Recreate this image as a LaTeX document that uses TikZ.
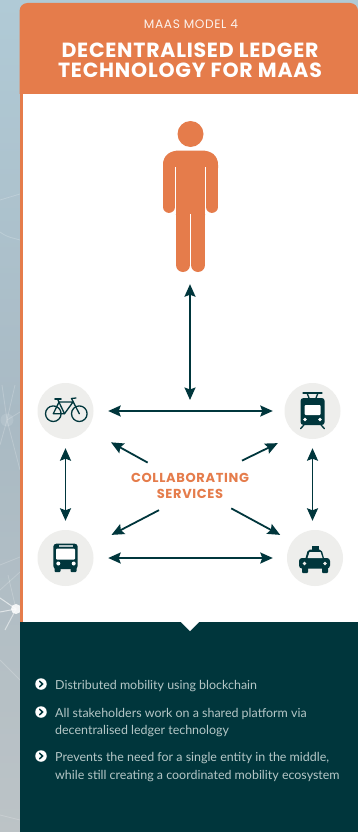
\documentclass[tikz,border=0pt]{standalone}
\usepackage{fontspec}
\setmainfont{Lato}
\newfontfamily\kickerfont[LetterSpace=5]{Poppins}
\newfontfamily\titlefont[LetterSpace=3.7]{Poppins}
\newfontfamily\collabfont[LetterSpace=5]{Poppins}
\usetikzlibrary{arrows.meta,calc}
\definecolor{mango}{HTML}{E57C4B}
\definecolor{deep}{HTML}{00363C}
\definecolor{halo}{HTML}{EEEEEC}
\definecolor{copytone}{HTML}{B4C6C6}
\definecolor{bgtop}{HTML}{B0CAD6}
\definecolor{bgmid}{HTML}{A9BAC4}
\definecolor{bgbot}{HTML}{BCC3C6}
\tikzset{
  tip/.tip={Stealth[length=12.5pt,width=11pt,inset=2pt]},
  biarrow/.style={draw=deep,line width=1.8pt,tip-tip},
  oneway/.style={draw=deep,line width=1.8pt,-tip},
  halonode/.style={circle,fill=halo,minimum size=56pt,inner sep=0pt},
  bulletdot/.style={circle,fill=white,minimum size=11.5pt,inner sep=0pt},
  copyline/.style={anchor=west,text=copytone,font=\fontsize{12.45}{14}\selectfont,inner sep=0pt},
  chev/.style={draw=deep,line width=1.5pt,line cap=round},
  webline/.style={draw=white,line width=.8pt,opacity=.2},
  icon/.style={fill=deep,draw=none},
  iconline/.style={draw=deep,line width=1.3pt,line cap=round,line join=round},
  limb/.style={draw=mango,line cap=round}
}
\begin{document}
\begin{tikzpicture}[x=1pt,y=-1pt]
\useasboundingbox (0,0) rectangle (358,832);
% backdrop
\fill[top color=bgtop,bottom color=bgmid] (0,0) rectangle (358,416);
\fill[top color=bgmid,bottom color=bgbot] (0,416) rectangle (358,832);
\draw[webline] (0,200) -- (20,194);
\draw[webline] (0,232) .. controls (8,238) and (14,238) .. (20,240);
\fill[white,opacity=.12] (7,420) circle (6.5);
\draw[webline] (2,385) -- (7,420) -- (20,470);
\draw[webline] (15,385) -- (7,420) -- (0,445);
\draw[webline] (7,420) -- (20,412);
\draw[webline] (0,565) -- (20,557);
\draw[webline] (0,590) -- (20,572);
\draw[webline] (8,575) -- (16,609);
\draw[white,line width=1pt,opacity=.6] (0,598) -- (16,609) -- (0,612);
\draw[white,line width=1pt,opacity=.5] (16,609) -- (5,630);
\fill[white,opacity=.85] (16,609) circle (5);
\draw[webline] (0,660) -- (20,680);
\draw[webline] (0,815) -- (20,820);
% panel
\fill[mango] (19.5,90) rectangle (23,624);
\fill[mango] (19.5,94) -- (19.5,11) arc[start angle=180,end angle=270,radius=8] -- (350,3) arc[start angle=-90,end angle=0,radius=8] -- (358,94) -- cycle;
\fill[white] (22.5,94) rectangle (358,622);
\fill[deep] (19.5,622) rectangle (358,832);
\fill[white] (181,622) -- (199,622) -- (190,631) -- cycle;
% header
\node[inner sep=0pt,text=white!90!mango,font=\kickerfont\fontsize{12.2}{13}\selectfont] (kicker) at (191,24) {MAAS MODEL 4};
\node[inner sep=0pt,text=white,align=center,font=\titlefont\fontsize{20.5}{20.5}\bfseries\selectfont] (title) at (190,60.5) {DECENTRALISED LEDGER\\TECHNOLOGY FOR MAAS};
% person
\fill[mango] (190.5,134) circle (13);
\fill[mango] (163,165) .. controls (163,155) and (170,150.5) .. (180,150.5) -- (201,150.5) .. controls (211,150.5) and (218,155) .. (218,165) -- (218,168) -- (206,168) -- (205,215) -- (176,215) -- (175,168) -- (163,168) -- cycle;
\draw[limb,line width=11.8pt] (169,164) -- (169,207);
\draw[limb,line width=11.8pt] (212,164) -- (212,207);
\draw[limb,line width=14pt] (183,212) -- (183,265);
\draw[limb,line width=14pt] (198,212) -- (198,265);
\draw[white,line width=.7pt] (175.5,167) -- (175.5,214);
\draw[white,line width=.7pt] (205.7,167) -- (205.7,214);
\draw[white,line width=.9pt] (190.5,214) -- (190.5,270);
\node[minimum width=56pt,minimum height=152pt,inner sep=0pt] (person) at (190.5,196) {};
% service circles
\node[halonode] (bike) at (65.5,411) {};
\node[halonode] (train) at (312.5,411) {};
\node[halonode] (bus) at (65.5,558) {};
\node[halonode] (taxi) at (315,558) {};
\coordinate (hub) at (190,411);
\coordinate (collablow) at (190,494);
% bike icon
\draw[iconline] (53.3,413.7) circle (7.8);
\draw[iconline] (79.3,413.7) circle (7.8);
\draw[iconline] (53.3,413.7) -- (59,402) -- (73,402) -- (64.5,413.7) -- cycle;
\draw[iconline] (57.5,399) -- (64.5,413.7);
\draw[iconline] (79.3,413.7) -- (71.5,398.5) -- (76,398);
\draw[iconline,line width=1.7pt] (55,399) -- (61,399);
% train icon
\fill[icon,rounded corners=3pt] (300.5,398) rectangle (324.7,425);
\fill[white,rounded corners=1pt] (304.5,405) rectangle (320.5,415);
\fill[white] (305,419.5) circle (1.9);
\fill[white] (320,419.5) circle (1.9);
\draw[iconline] (303,393) -- (322,393);
\draw[iconline] (307,393) -- (309,398);
\draw[iconline] (318,393) -- (316,398);
\draw[iconline] (304,425) -- (300.5,428.7);
\draw[iconline] (321,425) -- (324.5,428.7);
% bus icon
\fill[icon,rounded corners=3pt] (53.3,543.7) rectangle (77.7,569);
\fill[icon,rounded corners=1pt] (54.5,566) rectangle (60.5,572);
\fill[icon,rounded corners=1pt] (70.5,566) rectangle (76.5,572);
\fill[white!70!deep] (58.5,544.7) rectangle (72.5,546.7);
\fill[white,rounded corners=1pt] (56,548.7) rectangle (75,559.7);
\fill[white] (58.3,563.5) circle (2);
\fill[white] (73.7,563.5) circle (2);
% taxi icon
\fill[icon] (312,546) rectangle (319,550);
\fill[icon,rounded corners=2pt] (305,560) -- (308,549.5) -- (321.5,549.5) -- (324.5,560) -- cycle;
\fill[icon,rounded corners=3pt] (299,558) rectangle (330,568.5);
\fill[icon,rounded corners=1pt] (302,566) rectangle (308,573);
\fill[icon,rounded corners=1pt] (322,566) rectangle (328,573);
\fill[halo] (307.5,558) -- (309.5,552) -- (320.5,552) -- (322.5,558) -- cycle;
\fill[halo] (304.5,563.5) circle (1.9);
\fill[halo] (325,563.5) circle (1.9);
% centre label
\node[inner sep=0pt,text=mango,align=center,font=\collabfont\fontsize{13}{16.5}\bfseries\selectfont] (collab) at (190,486) {COLLABORATING\\SERVICES};
% connectors
\draw[biarrow,shorten <=12pt,shorten >=11pt] (person.south -| hub) -- (hub);
\draw[biarrow,shorten <=14.5pt,shorten >=11.5pt] (bike) -- (train);
\draw[biarrow,shorten <=14.5pt,shorten >=14pt] (bus) -- (taxi);
\draw[biarrow,shorten <=9pt,shorten >=9pt] (bike) -- (bus);
\draw[biarrow,shorten <=9pt,shorten >=9pt] (train) -- (train |- bus.north);
\draw[oneway,shorten <=48.4pt,shorten >=27.3pt] (collab.center) -- (bike.-40);
\draw[oneway,shorten <=57.9pt,shorten >=20.6pt] (collab.center) -- (train.235);
\draw[oneway,shorten <=34.9pt,shorten >=23.3pt] (collablow) -- (bus.26);
\draw[oneway,shorten <=46.9pt,shorten >=13.7pt] (collab.center) -- (taxi.144);
% bullets
\foreach \n/\y in {a/684,b/712,c/756}{
  \node[bulletdot] (dot\n) at (41,\y) {};
  \draw[chev] ($(dot\n)+(-1.4,-2.8)$) -- ($(dot\n)+(1.5,0)$) -- ($(dot\n)+(-1.4,2.8)$);
}
\node[copyline] (t1) at (55,686.5) {Distributed mobility using blockchain};
\node[copyline] (t2) at (55,713.5) {All stakeholders work on a shared platform via};
\node[copyline] (t3) at (55,731) {decentralised ledger technology};
\node[copyline] (t4) at (55,758) {Prevents the need for a single entity in the middle,};
\node[copyline] (t5) at (55,776) {while still creating a coordinated mobility ecosystem};
\end{tikzpicture}
\end{document}
